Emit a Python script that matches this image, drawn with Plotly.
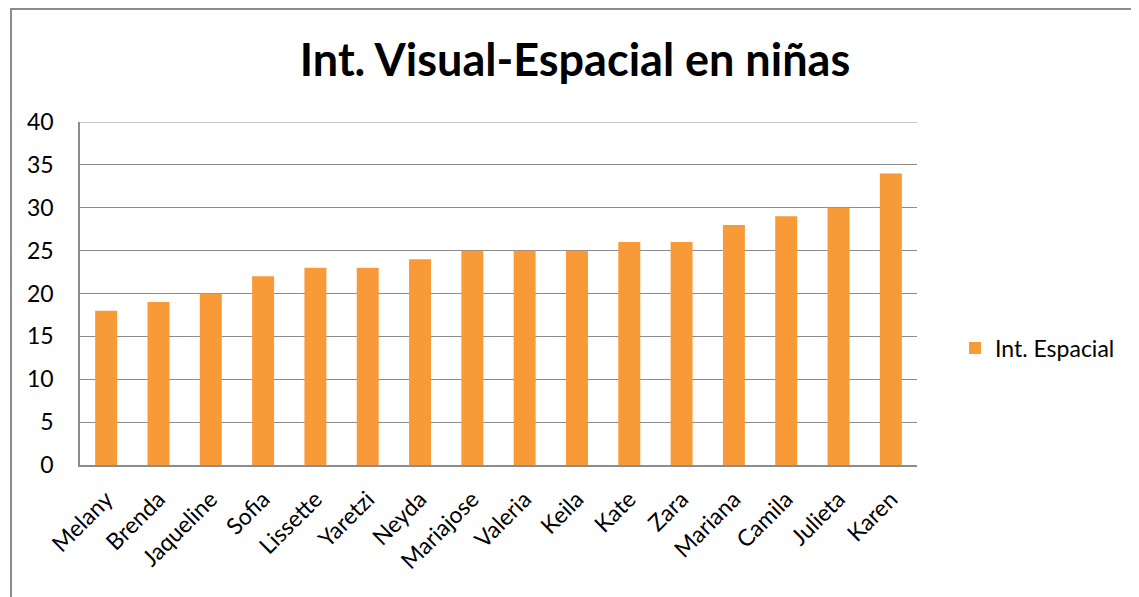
import plotly.graph_objects as go

names = ["Melany", "Brenda", "Jaqueline", "Sofia", "Lissette", "Yaretzi", "Neyda",
         "Mariajose", "Valeria", "Keila", "Kate", "Zara", "Mariana", "Camila",
         "Julieta", "Karen"]
values = [18, 19, 20, 22, 23, 23, 24, 25, 25, 25, 26, 26, 28, 29, 30, 34]
series_name = "Int. Espacial"
y_ticks = [0, 5, 10, 15, 20, 25, 30, 35, 40]

FONT = "Lato, Carlito, Calibri, sans-serif"
OFF = 8  # page body margin
W, H = 1139 - OFF, 597 - OFF
L, R, T, B = 80 - OFF, 917 - OFF, 122 - OFF, 465 - OFF

fig = go.Figure()
fig.add_trace(go.Bar(x=names, y=values, name=series_name,
                     marker=dict(color="#F89A38", line=dict(width=0)),
                     width=0.42))

pw, ph = R - L, B - T
def px_x(x):
    return (x - OFF - L) / pw
def px_y(y):
    return (B - (y - OFF)) / ph

fig.update_layout(
    width=W, height=H,
    margin=dict(l=L, r=W - R, t=T, b=H - B, pad=0),
    paper_bgcolor="white", plot_bgcolor="white",
    font=dict(family=FONT, size=23, color="#000000"),
    title=dict(text="<b>Int. Visual-Espacial en niñas</b>", x=(575 - OFF) / W, xanchor="center",
               y=1 - (60 - OFF) / H, yanchor="middle", font=dict(size=45, family=FONT, color="#000000")),
    showlegend=True,
    legend=dict(x=px_x(955), xanchor="left", y=px_y(348), yanchor="middle",
                font=dict(size=23, family=FONT), bgcolor="rgba(0,0,0,0)"),
    xaxis=dict(tickangle=-45, showgrid=False, showline=True, linecolor="#8C8C8C",
               linewidth=1.5, ticks="", tickfont=dict(size=23), ticklabelstandoff=10),
    yaxis=dict(range=[0, 40], tickvals=y_ticks, showgrid=True, gridcolor="#8C8C8C",
               gridwidth=1.2, showline=True, linecolor="#8C8C8C", linewidth=1.5,
               ticks="", ticklen=0, tickfont=dict(size=23), zeroline=False,
               ticklabelstandoff=20),
    shapes=[
        dict(type="rect", xref="paper", yref="paper",
             x0=px_x(11), x1=px_x(1136), y0=px_y(640), y1=px_y(9),
             line=dict(color="#8C8C8C", width=2), fillcolor="rgba(0,0,0,0)", layer="below"),
        dict(type="line", xref="paper", yref="y", x0=0, x1=1, y0=y_ticks[-1], y1=y_ticks[-1],
             line=dict(color="#8C8C8C", width=1.2), layer="below"),
    ],
)

fig.write_html("out.html")
